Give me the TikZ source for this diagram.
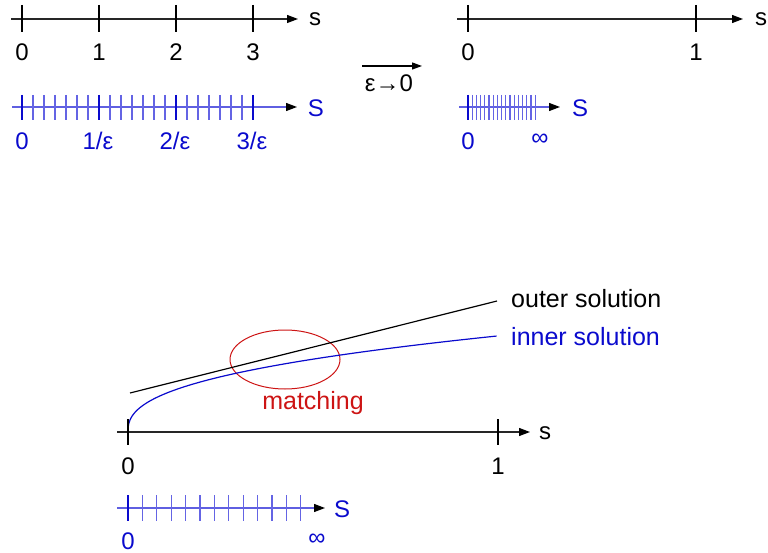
\documentclass[tikz,border=0pt]{standalone}
\usepackage{fontspec}
\setmainfont{Liberation Sans}
\usetikzlibrary{arrows.meta,positioning,shapes.geometric}
\definecolor{scaleblue}{RGB}{10,10,205}
\definecolor{lineblue}{RGB}{95,95,225}
\definecolor{minorblue}{RGB}{100,100,228}
\definecolor{matchred}{RGB}{205,20,20}

\begin{document}
\begin{tikzpicture}[x=1pt,y=-1pt,
  font=\fontsize{24}{28}\selectfont,
  axis/.style={draw=black!85,line width=1.2pt,-{Triangle[length=11pt,width=8pt,black]}},
  saxis/.style={draw=lineblue,line width=1.2pt,-{Triangle[length=11pt,width=8pt,black]}},
  tick/.style={draw=black,line width=1.8pt},
  stick/.style={draw=scaleblue,line width=2.2pt},
  mtick/.style={draw=minorblue,line width=1.3pt},
  lab/.style={anchor=base,inner sep=0pt},
  slab/.style={lab,text=scaleblue},
  infty/.style={anchor=center,inner sep=0pt,text=scaleblue},
  word/.style={anchor=base west,inner sep=0pt,font=\fontsize{25}{28}\selectfont},
  ring/.style={draw=matchred,ellipse,line width=1pt,inner sep=0pt,
               minimum width=110pt,minimum height=59pt},
  outer/.style={draw=black,line width=1.2pt},
  inner/.style={draw=scaleblue,line width=1.2pt}
]
\useasboundingbox (0,0) rectangle (768,553);

% s-axis, finite epsilon
\coordinate (sL0) at (11,19);
\coordinate (sL1) at (298,19);
\draw[axis] (sL0) -- (sL1);
\foreach \k in {0,...,3} \draw[tick] (22+77*\k,5) -- (22+77*\k,32);
\node[lab] (sl0) at (22,61) {0};
\node[lab] (sl1) at (99,61) {1};
\node[lab] (sl2) at (176,61) {2};
\node[lab] (sl3) at (253,61) {3};
\node[lab] (slname) at (315,26) {s};

% S-axis, finite epsilon
\coordinate (SL0) at (12,107);
\coordinate (SL1) at (297,107);
\draw[saxis] (SL0) -- (SL1);
\foreach \k in {0,...,21} \draw[mtick] (22+11*\k,95) -- (22+11*\k,120);
\foreach \k in {0,...,3} \draw[stick] (22+77*\k,95) -- (22+77*\k,120);
\node[slab] (Sl0) at (22,150) {0};
\node[slab] (Sl1) at (98,150) {1/ε};
\node[slab] (Sl2) at (175,150) {2/ε};
\node[slab] (Sl3) at (252,150) {3/ε};
\node[slab] (Slname) at (316,117) {S};

% limit
\coordinate (lim0) at (362,66);
\coordinate (lim1) at (422,66);
\draw[line width=1.2pt,-{Triangle[length=10pt,width=7pt]}] (lim0) -- (lim1);
\node[lab] (limtxt) at (389,92) {ε→0};

% s-axis, epsilon -> 0
\coordinate (sR0) at (457,19);
\coordinate (sR1) at (743,19);
\draw[axis] (sR0) -- (sR1);
\draw[tick] (468,5) -- (468,32);
\draw[tick] (696,5) -- (696,32);
\node[lab] (sr0) at (468,61) {0};
\node[lab] (sr1) at (696,61) {1};
\node[lab] (srname) at (761,26) {s};

% S-axis, epsilon -> 0
\coordinate (SR0) at (459,107);
\coordinate (SR1) at (560,107);
\draw[saxis] (SR0) -- (SR1);
\foreach \k in {0,...,16} \draw[mtick] (468+4.2*\k,95) -- (468+4.2*\k,120);
\draw[stick] (468,95) -- (468,120);
\node[slab] (Sr0) at (468,150) {0};
\node[infty] (Srinf) at (540,140) {∞};
\node[slab] (Srname) at (580,117) {S};

% matching picture
\node[ring] (match) at (285,359.5) {};
\node[lab,text=matchred,font=\fontsize{25}{28}\selectfont] (matchtxt) at (313,409) {matching};

\coordinate (outA) at (130,393);
\coordinate (outB) at (497,301);
\draw[outer] (outA) -- (outB);
\node[word] (outtxt) at (511,307) {outer solution};

\coordinate (inA) at (128,432);
\coordinate (inB) at (497,336);
\draw[inner] plot[domain=0:1,samples=90,smooth] ({128+369*\x*\x*sqrt(\x)},{432-96*\x});
\node[word,text=scaleblue] (intxt) at (511,345) {inner solution};

% s-axis below
\coordinate (sB0) at (117,432);
\coordinate (sB1) at (530,432);
\draw[axis] (sB0) -- (sB1);
\draw[tick] (128,419) -- (128,445);
\draw[tick] (498,419) -- (498,445);
\node[lab] (sb0) at (128,474) {0};
\node[lab] (sb1) at (498,474) {1};
\node[lab] (sbname) at (545,439) {s};

% S-axis below
\coordinate (SB0) at (117,508);
\coordinate (SB1) at (325,508);
\draw[saxis] (SB0) -- (SB1);
\foreach \k in {0,...,12} \draw[mtick] (128+14.4*\k,495) -- (128+14.4*\k,521);
\draw[stick] (128,495) -- (128,521);
\node[slab] (Sb0) at (128,549) {0};
\node[infty] (Sbinf) at (317,540) {∞};
\node[slab] (Sbname) at (342,517) {S};
\end{tikzpicture}
\end{document}
